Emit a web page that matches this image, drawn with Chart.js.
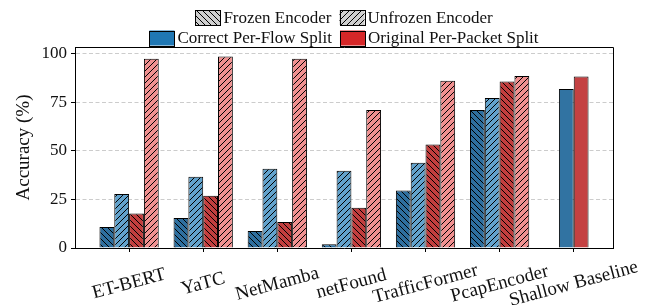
<!DOCTYPE html>
<html>
<head>
<meta charset="utf-8">
<script src="https://cdn.jsdelivr.net/npm/chart.js@4"></script>
<style>
  html, body { margin: 0; padding: 0; background: #fff; }
  #c { display: block; }
</style>
</head>
<body>
<canvas id="c" width="648" height="305"></canvas>
<script>
// ---- data ----
const categories = ['ET-BERT', 'YaTC', 'NetMamba', 'netFound', 'TrafficFormer', 'PcapEncoder', 'Shallow Baseline'];
const flowFrozen     = [10.8, 15.4,  8.7,  1.9, 29.6, 71.0, null];
const flowUnfrozen   = [27.8, 36.7, 40.8, 39.8, 43.9, 77.2, null];
const packetFrozen   = [17.7, 26.9, 13.4, 20.7, 53.2, 85.6, null];
const packetUnfrozen = [97.3, 98.5, 97.4, 71.0, 86.0, 88.5, null];
const baselineFlow   = [null, null, null, null, null, null, 81.8];
const baselinePacket = [null, null, null, null, null, null, 88.2];
const yTicks = [0, 25, 50, 75, 100];
const legendHatch = ['Frozen Encoder', 'Unfrozen Encoder'];
const legendSplit = ['Correct Per-Flow Split', 'Original Per-Packet Split'];

// ---- styles ----
const FONT = '"Liberation Serif", "Times New Roman", serif';
const C = {
  flowFrozen: '#2e6f9f', flowUnfrozen: '#62a2cc',
  pktFrozen: '#c23e3e', pktUnfrozen: '#f09090',
  baseFlow: '#3173a2', basePkt: '#c44142',
  legFlow: '#1f77b4', legPkt: '#d62728', legGray: '#cfcfcf'
};

function hatch(bg, dir) {
  const s = 6;
  const t = document.createElement('canvas');
  t.width = s; t.height = s;
  const g = t.getContext('2d');
  g.fillStyle = bg; g.fillRect(0, 0, s, s);
  g.strokeStyle = '#000'; g.lineWidth = 1;
  g.beginPath();
  for (const k of [-s, 0, s]) {
    if (dir === '/') { g.moveTo(k, s); g.lineTo(k + s, 0); }
    else { g.moveTo(k, 0); g.lineTo(k + s, s); }
  }
  g.stroke();
  return g.createPattern(t, 'repeat');
}

function pts(arr) {
  return arr.map((v, i) => v == null ? null : { x: i, y: v }).filter(Boolean);
}

function ds(arr, stack, bg) {
  return { data: pts(arr), stack: stack, backgroundColor: bg, borderColor: '#000', borderWidth: 1 };
}

const datasets = [
  ds(flowFrozen, 'a', hatch(C.flowFrozen, '\\')),
  ds(flowUnfrozen, 'b', hatch(C.flowUnfrozen, '/')),
  ds(baselineFlow, 'b', C.baseFlow),
  ds(packetFrozen, 'c', hatch(C.pktFrozen, '\\')),
  ds(baselinePacket, 'c', C.basePkt),
  ds(packetUnfrozen, 'd', hatch(C.pktUnfrozen, '/'))
];

const decor = {
  id: 'decor',
  afterDraw(chart) {
    const ctx = chart.ctx;
    const a = chart.chartArea;
    ctx.save();
    // top and right spines
    ctx.strokeStyle = '#000'; ctx.lineWidth = 1;
    ctx.beginPath();
    ctx.moveTo(Math.round(a.left) + 0.5, Math.round(a.top) + 0.5);
    ctx.lineTo(Math.round(a.right) + 0.5, Math.round(a.top) + 0.5);
    ctx.lineTo(Math.round(a.right) + 0.5, Math.round(a.bottom) + 0.5);
    ctx.stroke();

    // x labels, rotated and centred on ticks
    const xs = chart.scales.x;
    ctx.fillStyle = '#111';
    ctx.font = '19px ' + FONT;
    ctx.textAlign = 'center'; ctx.textBaseline = 'middle';
    categories.forEach((lab, i) => {
      const x = xs.getPixelForValue(i);
      ctx.save();
      ctx.translate(x, 284);
      ctx.rotate(-15 * Math.PI / 180);
      ctx.fillText(lab, 0, 0);
      ctx.restore();
    });

    // y title
    ctx.save();
    ctx.translate(24, (a.top + a.bottom) / 2);
    ctx.rotate(-Math.PI / 2);
    ctx.font = '19px ' + FONT;
    ctx.fillText('Accuracy (%)', 0, 0);
    ctx.restore();

    // legends (two centred rows)
    const cx = (a.left + a.right) / 2;
    ctx.font = '17px ' + FONT;
    ctx.textAlign = 'left';
    const pw = 25, ph = 15, gapT = 3, gapE = 8;
    function row(items, yc) {
      let total = 0;
      items.forEach((it, i) => {
        total += pw + gapT + ctx.measureText(it.label).width + (i ? gapE : 0);
      });
      let x = cx - total / 2;
      items.forEach((it) => {
        ctx.fillStyle = it.fill;
        ctx.fillRect(x, yc - ph / 2, pw, ph);
        ctx.strokeStyle = '#000'; ctx.lineWidth = 1;
        ctx.strokeRect(Math.round(x) + 0.5, Math.round(yc - ph / 2) + 0.5, pw, ph);
        x += pw + gapT;
        ctx.fillStyle = '#111';
        ctx.fillText(it.label, x, yc + 1);
        x += ctx.measureText(it.label).width + gapE;
      });
    }
    row([
      { label: legendHatch[0], fill: hatch(C.legGray, '\\') },
      { label: legendHatch[1], fill: hatch(C.legGray, '/') }
    ], 17.5);
    row([
      { label: legendSplit[0], fill: C.legFlow },
      { label: legendSplit[1], fill: C.legPkt }
    ], 38);
    ctx.restore();
  }
};

new Chart(document.getElementById('c'), {
  type: 'bar',
  data: { datasets },
  plugins: [decor],
  options: {
    responsive: false,
    animation: false,
    devicePixelRatio: 1,
    layout: { padding: { top: 47, right: 35, bottom: 0, left: 0 } },
    categoryPercentage: 0.8,
    barPercentage: 1.0,
    plugins: { legend: { display: false }, tooltip: { enabled: false } },
    scales: {
      x: {
        type: 'linear',
        offset: false,
        min: -0.73, max: 6.53,
        afterBuildTicks: (s) => { s.ticks = categories.map((c, i) => ({ value: i })); },
        afterFit: (s) => { s.height = 57; },
        ticks: { display: false },
        grid: { offset: false, drawOnChartArea: false, drawTicks: true, tickLength: 4, color: '#000', tickColor: '#000', lineWidth: 1 },
        border: { display: true, color: '#000', width: 1 }
      },
      y: {
        min: 0, max: 103.4,
        afterBuildTicks: (s) => { s.ticks = yTicks.map(v => ({ value: v })); },
        afterFit: (s) => { s.width = 75; },
        ticks: { color: '#111', padding: 4, font: { family: FONT, size: 17 } },
        grid: { drawOnChartArea: true, drawTicks: true, tickLength: 4, color: '#cccccc', tickColor: '#000', lineWidth: 1 },
        border: { display: true, color: '#000', width: 1, dash: [4, 2.5] }
      }
    }
  }
});
</script>
</body>
</html>
